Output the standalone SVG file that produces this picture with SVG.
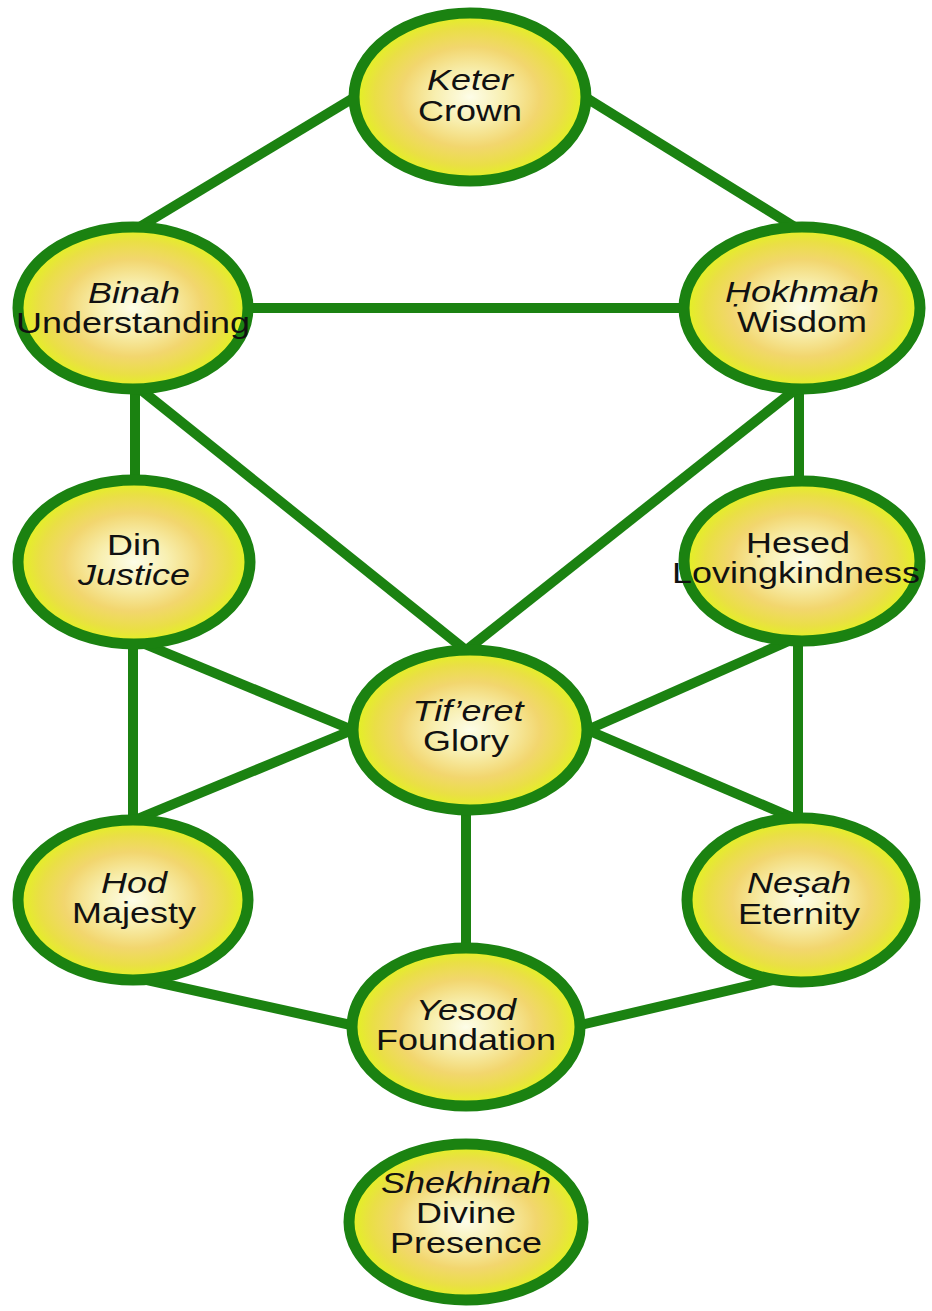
<svg xmlns="http://www.w3.org/2000/svg" width="932" height="1311" viewBox="0 0 932 1311">
<defs>
<radialGradient id="fill" cx="50%" cy="50%" r="50%">
<stop offset="0" stop-color="#fdfde8"/>
<stop offset="0.3" stop-color="#f8efb0"/>
<stop offset="0.6" stop-color="#f2d66e"/>
<stop offset="0.82" stop-color="#eadf45"/>
<stop offset="1" stop-color="#e2f41e"/>
</radialGradient>
<style>
.n ellipse{fill:url(#fill);stroke:#1b8211;stroke-width:11}
.c line{stroke:#1b8211;stroke-width:10;stroke-linecap:butt}
text{font-family:"Liberation Sans",Arial,"DejaVu Sans",sans-serif;font-size:29px;fill:#111;text-anchor:middle}
.i{font-style:italic}
</style>
</defs>
<rect width="932" height="1311" fill="#ffffff"/>
<g id="connectors" class="c">
<line x1="128" y1="234" x2="360" y2="94"/>
<line x1="580" y1="94" x2="806" y2="234"/>
<line x1="245" y1="308" x2="685" y2="308"/>
<line x1="135" y1="385" x2="135" y2="482"/>
<line x1="799" y1="385" x2="799" y2="482"/>
<line x1="135" y1="385" x2="468" y2="652"/>
<line x1="801" y1="385" x2="464" y2="652"/>
<line x1="135" y1="640" x2="355" y2="731"/>
<line x1="800" y1="636" x2="585" y2="731"/>
<line x1="133" y1="640" x2="133" y2="820"/>
<line x1="798" y1="635" x2="798" y2="818"/>
<line x1="355" y1="729" x2="130" y2="822"/>
<line x1="585" y1="729" x2="803" y2="822"/>
<line x1="466" y1="800" x2="466" y2="955"/>
<line x1="138" y1="978" x2="360" y2="1027"/>
<line x1="782" y1="978" x2="572" y2="1027"/>
</g>
<g id="keter" class="n">
<ellipse cx="470" cy="97" rx="116" ry="84"/>
<text class="i" transform="translate(470 90) scale(1.24 1)">Keter</text>
<text transform="translate(470 121) scale(1.24 1)">Crown</text>
</g>
<g id="binah" class="n">
<ellipse cx="133" cy="308" rx="115" ry="81"/>
<text class="i" transform="translate(134 303) scale(1.24 1)">Binah</text>
<text transform="translate(133 333) scale(1.24 1)">Understanding</text>
</g>
<g id="hokhmah" class="n">
<ellipse cx="802" cy="308" rx="118" ry="81"/>
<text class="i" transform="translate(802 302) scale(1.24 1)">Ḥokhmah</text>
<text transform="translate(802 332) scale(1.24 1)">Wisdom</text>
</g>
<g id="din" class="n">
<ellipse cx="134" cy="562" rx="116" ry="82"/>
<text transform="translate(134 555) scale(1.24 1)">Din</text>
<text class="i" transform="translate(134 585) scale(1.24 1)">Justice</text>
</g>
<g id="hesed" class="n">
<ellipse cx="802" cy="561" rx="118" ry="80"/>
<text transform="translate(798 553) scale(1.24 1)">Ḥesed</text>
<text transform="translate(796 583) scale(1.24 1)">Lovingkindness</text>
</g>
<g id="tiferet" class="n">
<ellipse cx="470" cy="730" rx="117" ry="80"/>
<text class="i" transform="translate(468 721) scale(1.24 1)">Tif’eret</text>
<text transform="translate(466 751) scale(1.24 1)">Glory</text>
</g>
<g id="hod" class="n">
<ellipse cx="133" cy="900" rx="115" ry="80"/>
<text class="i" transform="translate(134 893) scale(1.24 1)">Hod</text>
<text transform="translate(134 923) scale(1.24 1)">Majesty</text>
</g>
<g id="nesah" class="n">
<ellipse cx="801" cy="900" rx="114" ry="82"/>
<text class="i" transform="translate(799 893) scale(1.24 1)">Neṣah</text>
<text transform="translate(799 924) scale(1.24 1)">Eternity</text>
</g>
<g id="yesod" class="n">
<ellipse cx="466" cy="1027" rx="114" ry="79"/>
<text class="i" transform="translate(466 1020) scale(1.24 1)">Yesod</text>
<text transform="translate(466 1050) scale(1.24 1)">Foundation</text>
</g>
<g id="shekhinah" class="n">
<ellipse cx="466" cy="1222" rx="117" ry="78"/>
<text class="i" transform="translate(466 1193) scale(1.24 1)">Shekhinah</text>
<text transform="translate(466 1223) scale(1.24 1)">Divine</text>
<text transform="translate(466 1253) scale(1.24 1)">Presence</text>
</g>
</svg>
